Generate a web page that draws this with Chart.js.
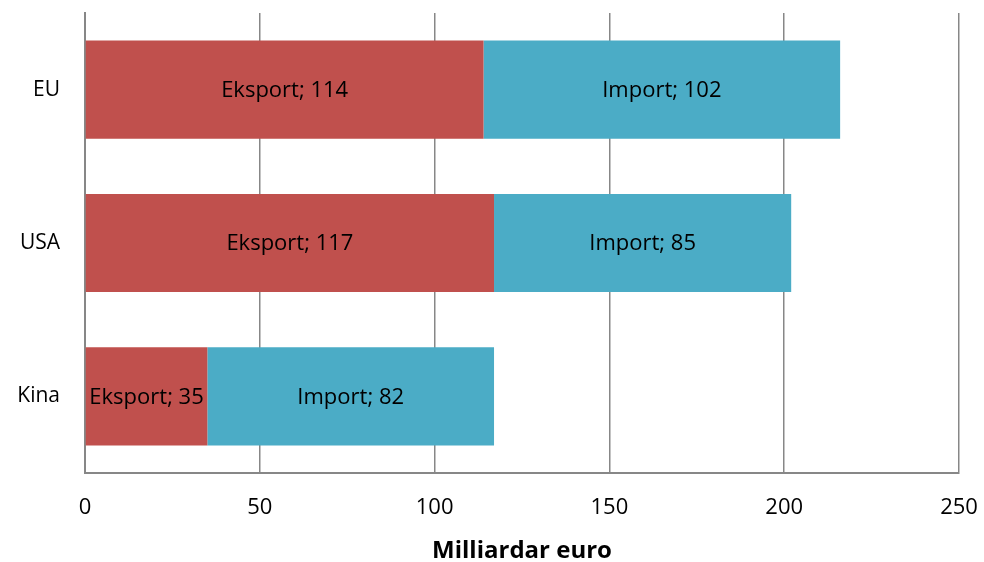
<!DOCTYPE html>
<html>
<head>
<meta charset="utf-8">
<script src="https://cdn.jsdelivr.net/npm/chart.js@4"></script>
<style>
  html, body { margin: 0; padding: 0; background: #fff; }
  #wrap { width: 984px; height: 562px; }
</style>
</head>
<body>
<div id="wrap"><canvas id="chart"></canvas></div>
<script>
// Chart data
const regions = ["EU", "USA", "Kina"];
const exportValues = [114, 117, 35];
const importValues = [102, 85, 82];
const xTicks = [0, 50, 100, 150, 200, 250];

const FONT = "'Open Sans', 'Liberation Sans', sans-serif";
const GRID = "#878787";

// draws "Eksport; 114" etc. in the middle of each bar
const barLabels = {
  id: "barLabels",
  afterDatasetsDraw(chart) {
    const ctx = chart.ctx;
    ctx.save();
    ctx.font = "22px " + FONT;
    ctx.fillStyle = "#000";
    ctx.textAlign = "center";
    ctx.textBaseline = "middle";
    chart.data.datasets.forEach((ds, i) => {
      chart.getDatasetMeta(i).data.forEach((bar, j) => {
        const p = bar.getProps(["x", "y", "base"], true);
        const cx = (p.x + p.base) / 2;
        ctx.fillText(ds.label + "; " + ds.data[j], cx, p.y + 1);
      });
    });
    ctx.restore();
  }
};

new Chart(document.getElementById("chart"), {
  type: "bar",
  data: {
    labels: regions,
    datasets: [
      {
        label: "Eksport",
        data: exportValues,
        backgroundColor: "#C0504D",
        categoryPercentage: 0.64,
        barPercentage: 1.0,
      },
      {
        label: "Import",
        data: importValues,
        backgroundColor: "#4BACC6",
        categoryPercentage: 0.64,
        barPercentage: 1.0,
      },
    ],
  },
  options: {
    indexAxis: "y",
    responsive: true,
    maintainAspectRatio: false,
    animation: false,
    layout: { padding: { top: 13, right: 25, left: 0, bottom: 0 } },
    plugins: {
      legend: { display: false },
      tooltip: { enabled: false },
    },
    scales: {
      x: {
        stacked: true,
        min: 0,
        max: 250,
        afterBuildTicks(scale) {
          scale.ticks = xTicks.map((v) => ({ value: v }));
        },
        afterFit(scale) {
          scale.height = 89;
          scale.paddingLeft = 0;
          scale.paddingRight = 0;
        },
        grid: { color: GRID, lineWidth: 1.5, drawTicks: false },
        border: { color: GRID, width: 2 },
        ticks: {
          padding: 22,
          color: "#000",
          font: { family: FONT, size: 22 },
        },
        title: {
          display: true,
          text: "Milliardar euro",
          color: "#000",
          font: { family: FONT, size: 24, weight: "bold" },
          padding: { top: 2, bottom: -4 },
        },
      },
      y: {
        stacked: true,
        afterFit(scale) {
          scale.width = 85;
          scale.paddingTop = 0;
          scale.paddingBottom = 0;
        },
        grid: { display: false, drawTicks: false },
        border: { color: GRID, width: 2 },
        ticks: {
          padding: 25,
          color: "#000",
          font: { family: FONT, size: 21 },
        },
      },
    },
  },
  plugins: [barLabels],
});
</script>
</body>
</html>
